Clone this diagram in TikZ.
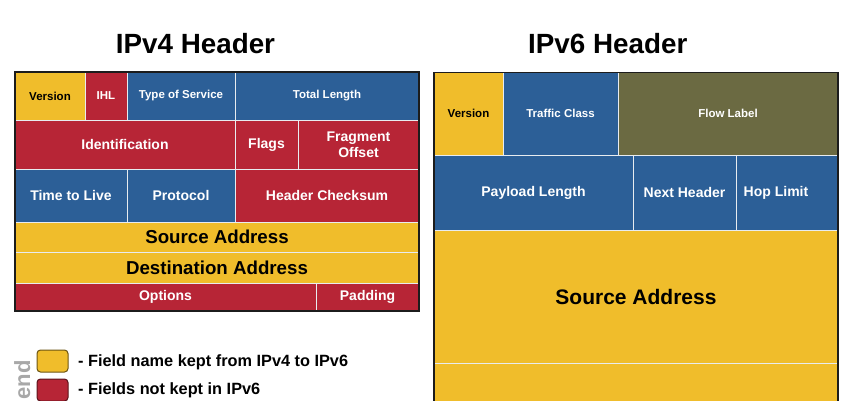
\documentclass[tikz,border=0pt]{standalone}
\usepackage{fontspec}
\setmainfont{Liberation Sans}
\usetikzlibrary{positioning}

\definecolor{keptyellow}{HTML}{F0BD2B}
\definecolor{droppedred}{HTML}{B72536}
\definecolor{movedblue}{HTML}{2C5F97}
\definecolor{newolive}{HTML}{6B6A42}
\definecolor{cellline}{HTML}{E8ECF0}
\definecolor{frameline}{HTML}{1C1C1C}
\definecolor{legendgray}{HTML}{A8A8A8}

% name, style, left, top, right, bottom, text
\newcommand{\field}[7]{%
  \node[#2, minimum width={#5pt-#3pt}, minimum height={#6pt-#4pt}] (#1) at ({(#3+#5)/2},{(#4+#6)/2}) {#7};}

\tikzset{
  cell/.style={draw=cellline, line width=0.8pt, inner sep=0pt, align=center},
  kept/.style={cell, fill=keptyellow, text=black},
  dropped/.style={cell, fill=droppedred, text=white},
  moved/.style={cell, fill=movedblue, text=white},
  newf/.style={cell, fill=newolive, text=white},
  fsmall/.style={font=\fontsize{11.5}{13}\selectfont\bfseries},
  fmid/.style={font=\fontsize{14}{16}\selectfont\bfseries},
  fbig/.style={font=\fontsize{18.7}{21}\selectfont\bfseries},
  fhuge/.style={font=\fontsize{21}{24}\selectfont\bfseries},
  frame/.style={draw=frameline, line width=1.6pt},
  keybox/.style={minimum width=31pt, minimum height=22pt, rounded corners=3.5pt, line width=1pt, inner sep=0pt},
  keytext/.style={anchor=west, inner sep=0pt, font=\fontsize{16.3}{18}\selectfont\bfseries}
}

\begin{document}
\begin{tikzpicture}[x=1pt, y=-1pt]
    \useasboundingbox (0,0) rectangle (845,400);
    \clip (0,0) rectangle (845,400);

    \node[anchor=base, font=\fontsize{27.8}{30}\selectfont\bfseries] (v4title) at (195.5,53) {IPv4 Header};
    \node[anchor=base, font=\fontsize{27.8}{30}\selectfont\bfseries] (v6title) at (607.8,53) {IPv6 Header};

    \field{v4ver}{kept,fsmall}{15}{72}{85}{120}{Version}
    \field{v4ihl}{dropped,fsmall}{85}{72}{127}{120}{IHL}
    \field{v4tos}{moved,fsmall}{127}{72}{235}{120}{Type of Service}
    \field{v4len}{moved,fsmall}{235}{72}{419}{120}{Total Length}
    \field{v4id}{dropped,fmid}{15}{120}{235}{169}{Identification}
    \field{v4flags}{dropped,fmid}{235}{120}{298}{169}{Flags}
    \field{v4frag}{dropped,fmid}{298}{120}{419}{169}{Fragment\\Offset}
    \field{v4ttl}{moved,fmid}{15}{169}{127}{222}{Time to Live}
    \field{v4proto}{moved,fmid}{127}{169}{235}{222}{Protocol}
    \field{v4sum}{dropped,fmid}{235}{169}{419}{222}{Header Checksum}
    \field{v4src}{kept,fbig}{15}{222}{419}{252}{Source Address}
    \field{v4dst}{kept,fbig}{15}{252}{419}{283}{Destination Address}
    \field{v4opt}{dropped,fmid}{15}{283}{316}{311}{Options}
    \field{v4pad}{dropped,fmid}{316}{283}{419}{311}{Padding}
    \draw[frame] (15,72) rectangle (419,311);

    \field{v6ver}{kept,fsmall}{434}{72.5}{503}{155}{Version}
    \field{v6class}{moved,fsmall}{503}{72.5}{618}{155}{Traffic Class}
    \field{v6flow}{newf,fsmall}{618}{72.5}{838}{155}{Flow Label}
    \field{v6len}{moved,fmid}{434}{155}{633}{230}{Payload Length}
    \field{v6next}{moved,fmid}{633}{155}{736}{230}{Next Header}
    \field{v6hop}{moved,fmid}{736}{155}{838}{230}{Hop Limit\hspace*{22pt}}
    \field{v6src}{kept,fhuge}{434}{230}{838}{363}{Source Address}
    \field{v6dst}{kept,fhuge}{434}{363}{838}{520}{}
    \draw[frame] (434,72.5) rectangle (838,520);

    \node[rotate=90, anchor=base east, text=legendgray, font=\fontsize{22}{24}\selectfont\bfseries] (keytitle) at (30,357) {Legend};
    \node[keybox, fill=keptyellow, draw=keptyellow!45!black] (keptkey) at (52.5,361) {};
    \node[keybox, fill=droppedred, draw=droppedred!50!black] (droppedkey) at (52.5,390) {};
    \node[keytext] (kepttext) at (78,362) {- Field name kept from IPv4 to IPv6};
    \node[keytext] (droppedtext) at (78,390) {- Fields not kept in IPv6};
\end{tikzpicture}
\end{document}
